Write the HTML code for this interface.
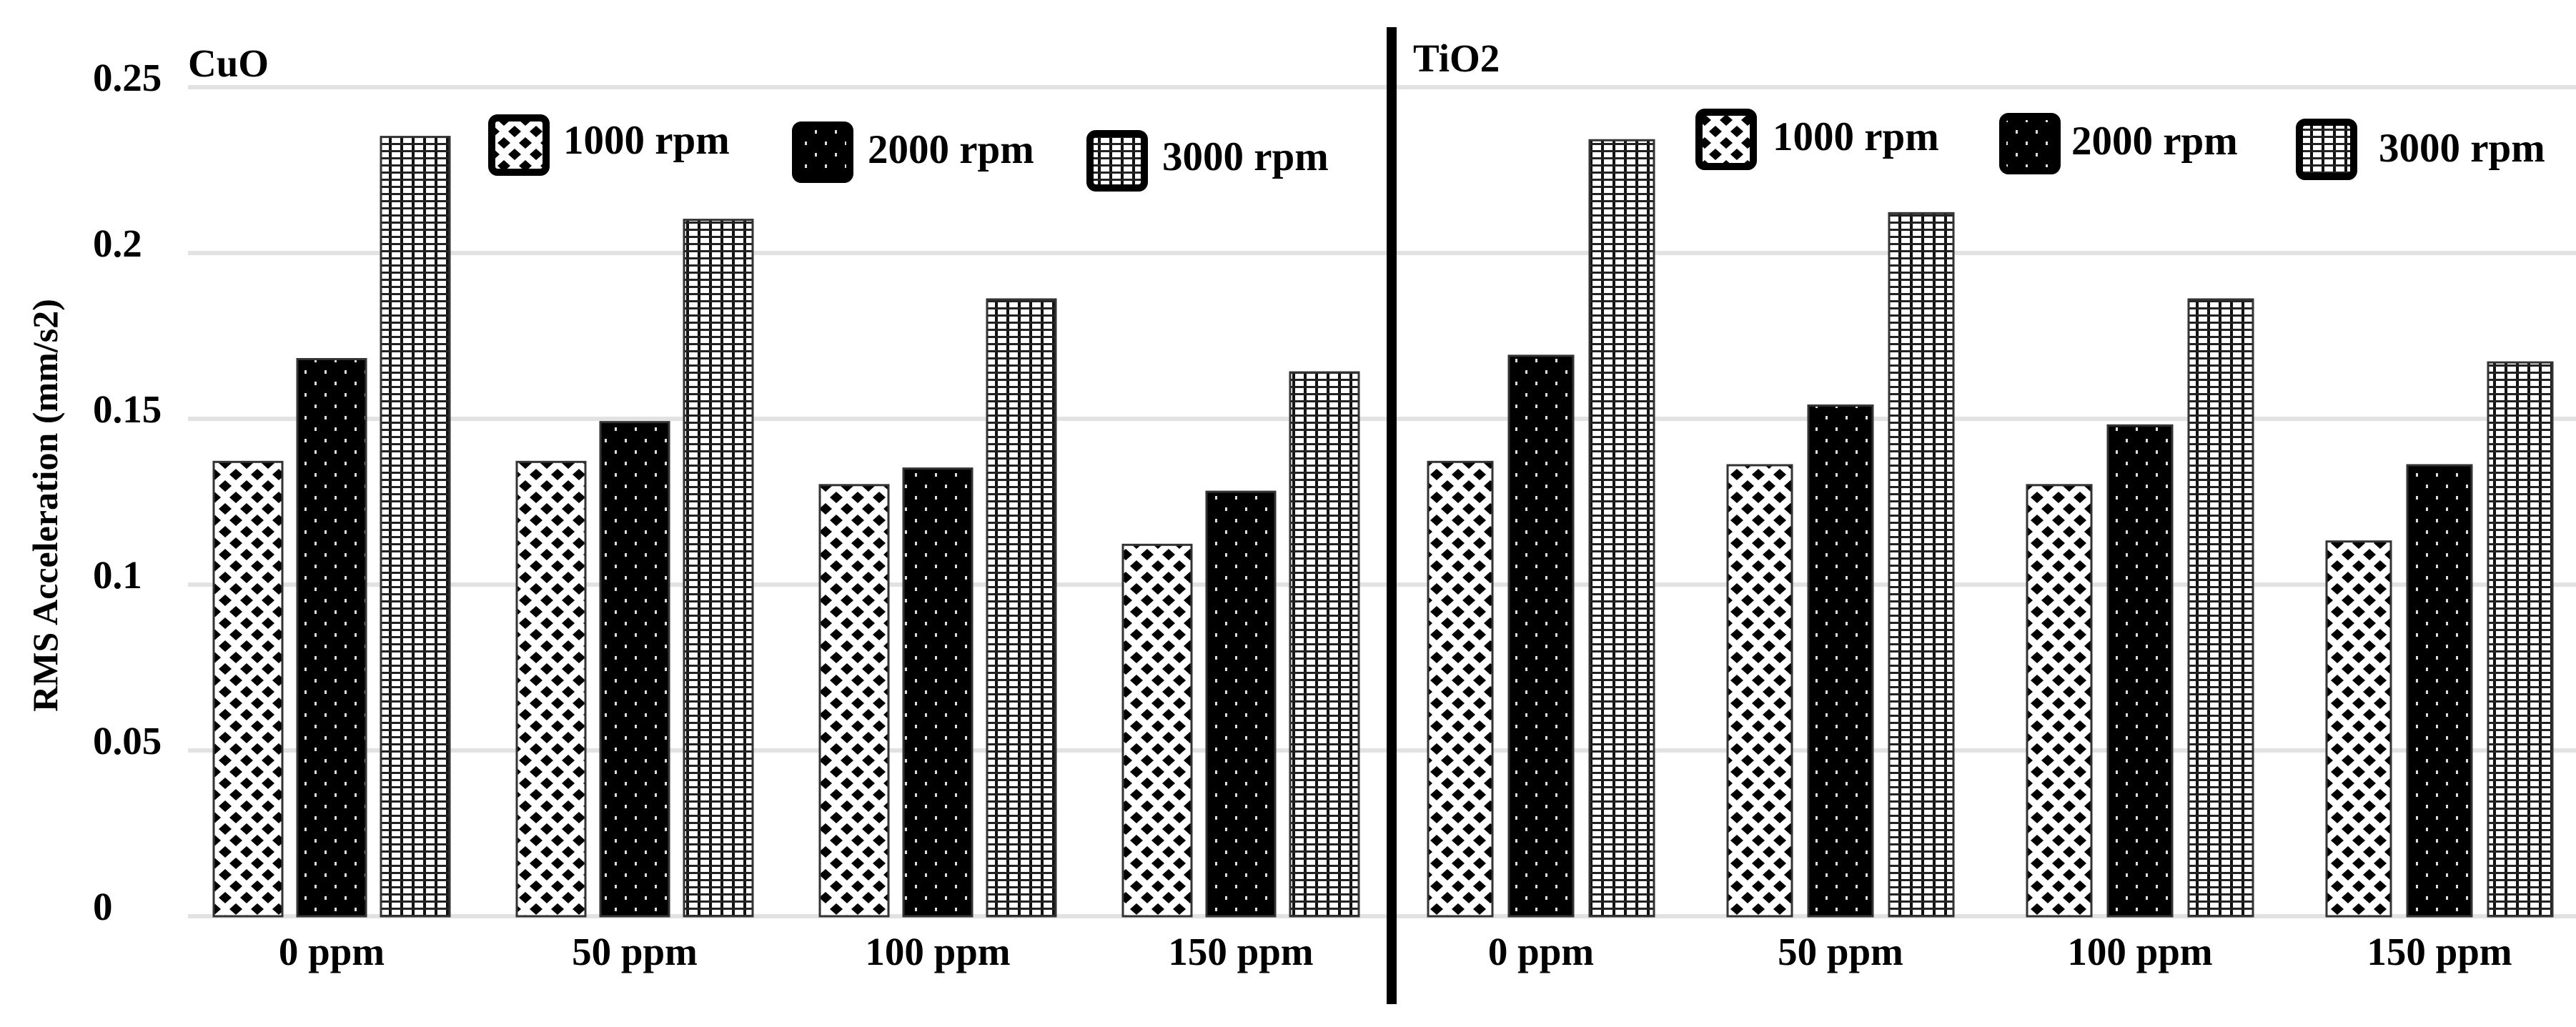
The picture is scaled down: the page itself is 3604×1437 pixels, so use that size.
<!DOCTYPE html>
<html><head><meta charset="utf-8"><style>
html,body{margin:0;padding:0;background:#fff;}
svg{display:block;font-family:"Liberation Serif",serif;font-weight:bold;}
</style></head><body>
<svg id="chart" width="3604" height="1437" viewBox="0 0 3604 1437" xmlns="http://www.w3.org/2000/svg">
<defs>
<pattern id="pDiamond" width="30" height="32" patternUnits="userSpaceOnUse">
<rect width="30" height="32" fill="#fff"/>
<polygon points="15,0 24,8 15,16 6,8" fill="#000"/>
<polygon points="0,16 9,24 0,32" fill="#000"/><polygon points="30,16 21,24 30,32" fill="#000"/>
</pattern>
<pattern id="pDots" width="28" height="32" patternUnits="userSpaceOnUse">
<rect width="28" height="32" fill="#000"/>
<rect x="6" y="6" width="3" height="5" fill="#ddd"/><rect x="20" y="22" width="3" height="5" fill="#ddd"/>
</pattern>
<pattern id="pGrid" width="16" height="10" patternUnits="userSpaceOnUse">
<rect width="16" height="10" fill="#fff"/>
<rect x="0" y="0" width="4" height="10" fill="#111"/>
<rect x="0" y="0" width="16" height="3" fill="#222"/>
</pattern>
</defs>
<g id="grid"></g>
<g id="bars"></g>
<g id="labels"></g>
<rect x="1940" y="38" width="14" height="1367" fill="#000"/>
<text transform="translate(80,707) rotate(-90)" text-anchor="middle" font-size="50">RMS Acceleration (mm/s2)</text>
<text x="263" y="107" font-size="55">CuO</text>
<text x="1977" y="100" font-size="55">TiO2</text>
<g id="legend"></g>
</svg>
<script>
const categories = ["0 ppm","50 ppm","100 ppm","150 ppm"];
const seriesNames = ["1000 rpm","2000 rpm","3000 rpm"];
const cuo1000 = [0.137,0.137,0.130,0.112];
const cuo2000 = [0.168,0.149,0.135,0.128];
const cuo3000 = [0.235,0.210,0.186,0.164];
const tio1000 = [0.137,0.136,0.130,0.113];
const tio2000 = [0.169,0.154,0.148,0.136];
const tio3000 = [0.234,0.212,0.186,0.167];
const yTicks = [0,0.05,0.1,0.15,0.2,0.25];
const yTickLabels = ["0","0.05","0.1","0.15","0.2","0.25"];

const NS="http://www.w3.org/2000/svg";
const fills=["url(#pDiamond)","url(#pDots)","url(#pGrid)"];
function yScale(v){return 1282 - v*4640;}
const panels=[
 {name:"cuo",series:[cuo1000,cuo2000,cuo3000],x0:299,groupStep:424,barStep:117,barW:96,
  legend:[[683,160,788,215],[1108,170,1214,228],[1520,182,1626,238]]},
 {name:"tio2",series:[tio1000,tio2000,tio3000],x0:1998,groupStep:419,barStep:113,barW:90,
  legend:[[2372,152,2480,210],[2797,158,2898,216],[3212,166,3328,226]]}
];
function xBand(p,ci,si){return p.x0+ci*p.groupStep+si*p.barStep;}
function mk(tag,attrs,parent){const e=document.createElementNS(NS,tag);for(const k in attrs)e.setAttribute(k,attrs[k]);parent.appendChild(e);return e;}
const gGrid=document.getElementById('grid'),gBars=document.getElementById('bars'),gLab=document.getElementById('labels'),gLeg=document.getElementById('legend');
yTicks.forEach((t,i)=>{
  const l=mk('rect',{x:263,y:yScale(t)-3,width:3341,height:6,fill:'#e2e2e2'},gGrid);
  
  
  const tx=mk('text',{x:130,y:yScale(t)+5,'font-size':55},gLab);
  tx.textContent=yTickLabels[i];
  
  
});
panels.forEach(p=>{
  categories.forEach((c,ci)=>{
    p.series.forEach((arr,si)=>{
      const v=arr[ci];
      const r=mk('rect',{x:xBand(p,ci,si),y:yScale(v),width:p.barW,height:yScale(0)-yScale(v),fill:fills[si],stroke:'#333','stroke-width':3},gBars);
      
      
    });
    const cx=xBand(p,ci,0)+(2*p.barStep+p.barW)/2;
    const t=mk('text',{x:cx,y:1350,'text-anchor':'middle','font-size':55},gLab);
    t.textContent=c;
    
    
  });
  p.legend.forEach((L,si)=>{
    const s=mk('rect',{x:L[0]+5,y:L[1]+5,width:76,height:76,rx:8,fill:fills[si],stroke:'#000','stroke-width':10},gLeg);
    
    
    const t=mk('text',{x:L[2],y:L[3],'font-size':57},gLeg);
    t.textContent=seriesNames[si];
    
    
  });
});
</script>
</body></html>
